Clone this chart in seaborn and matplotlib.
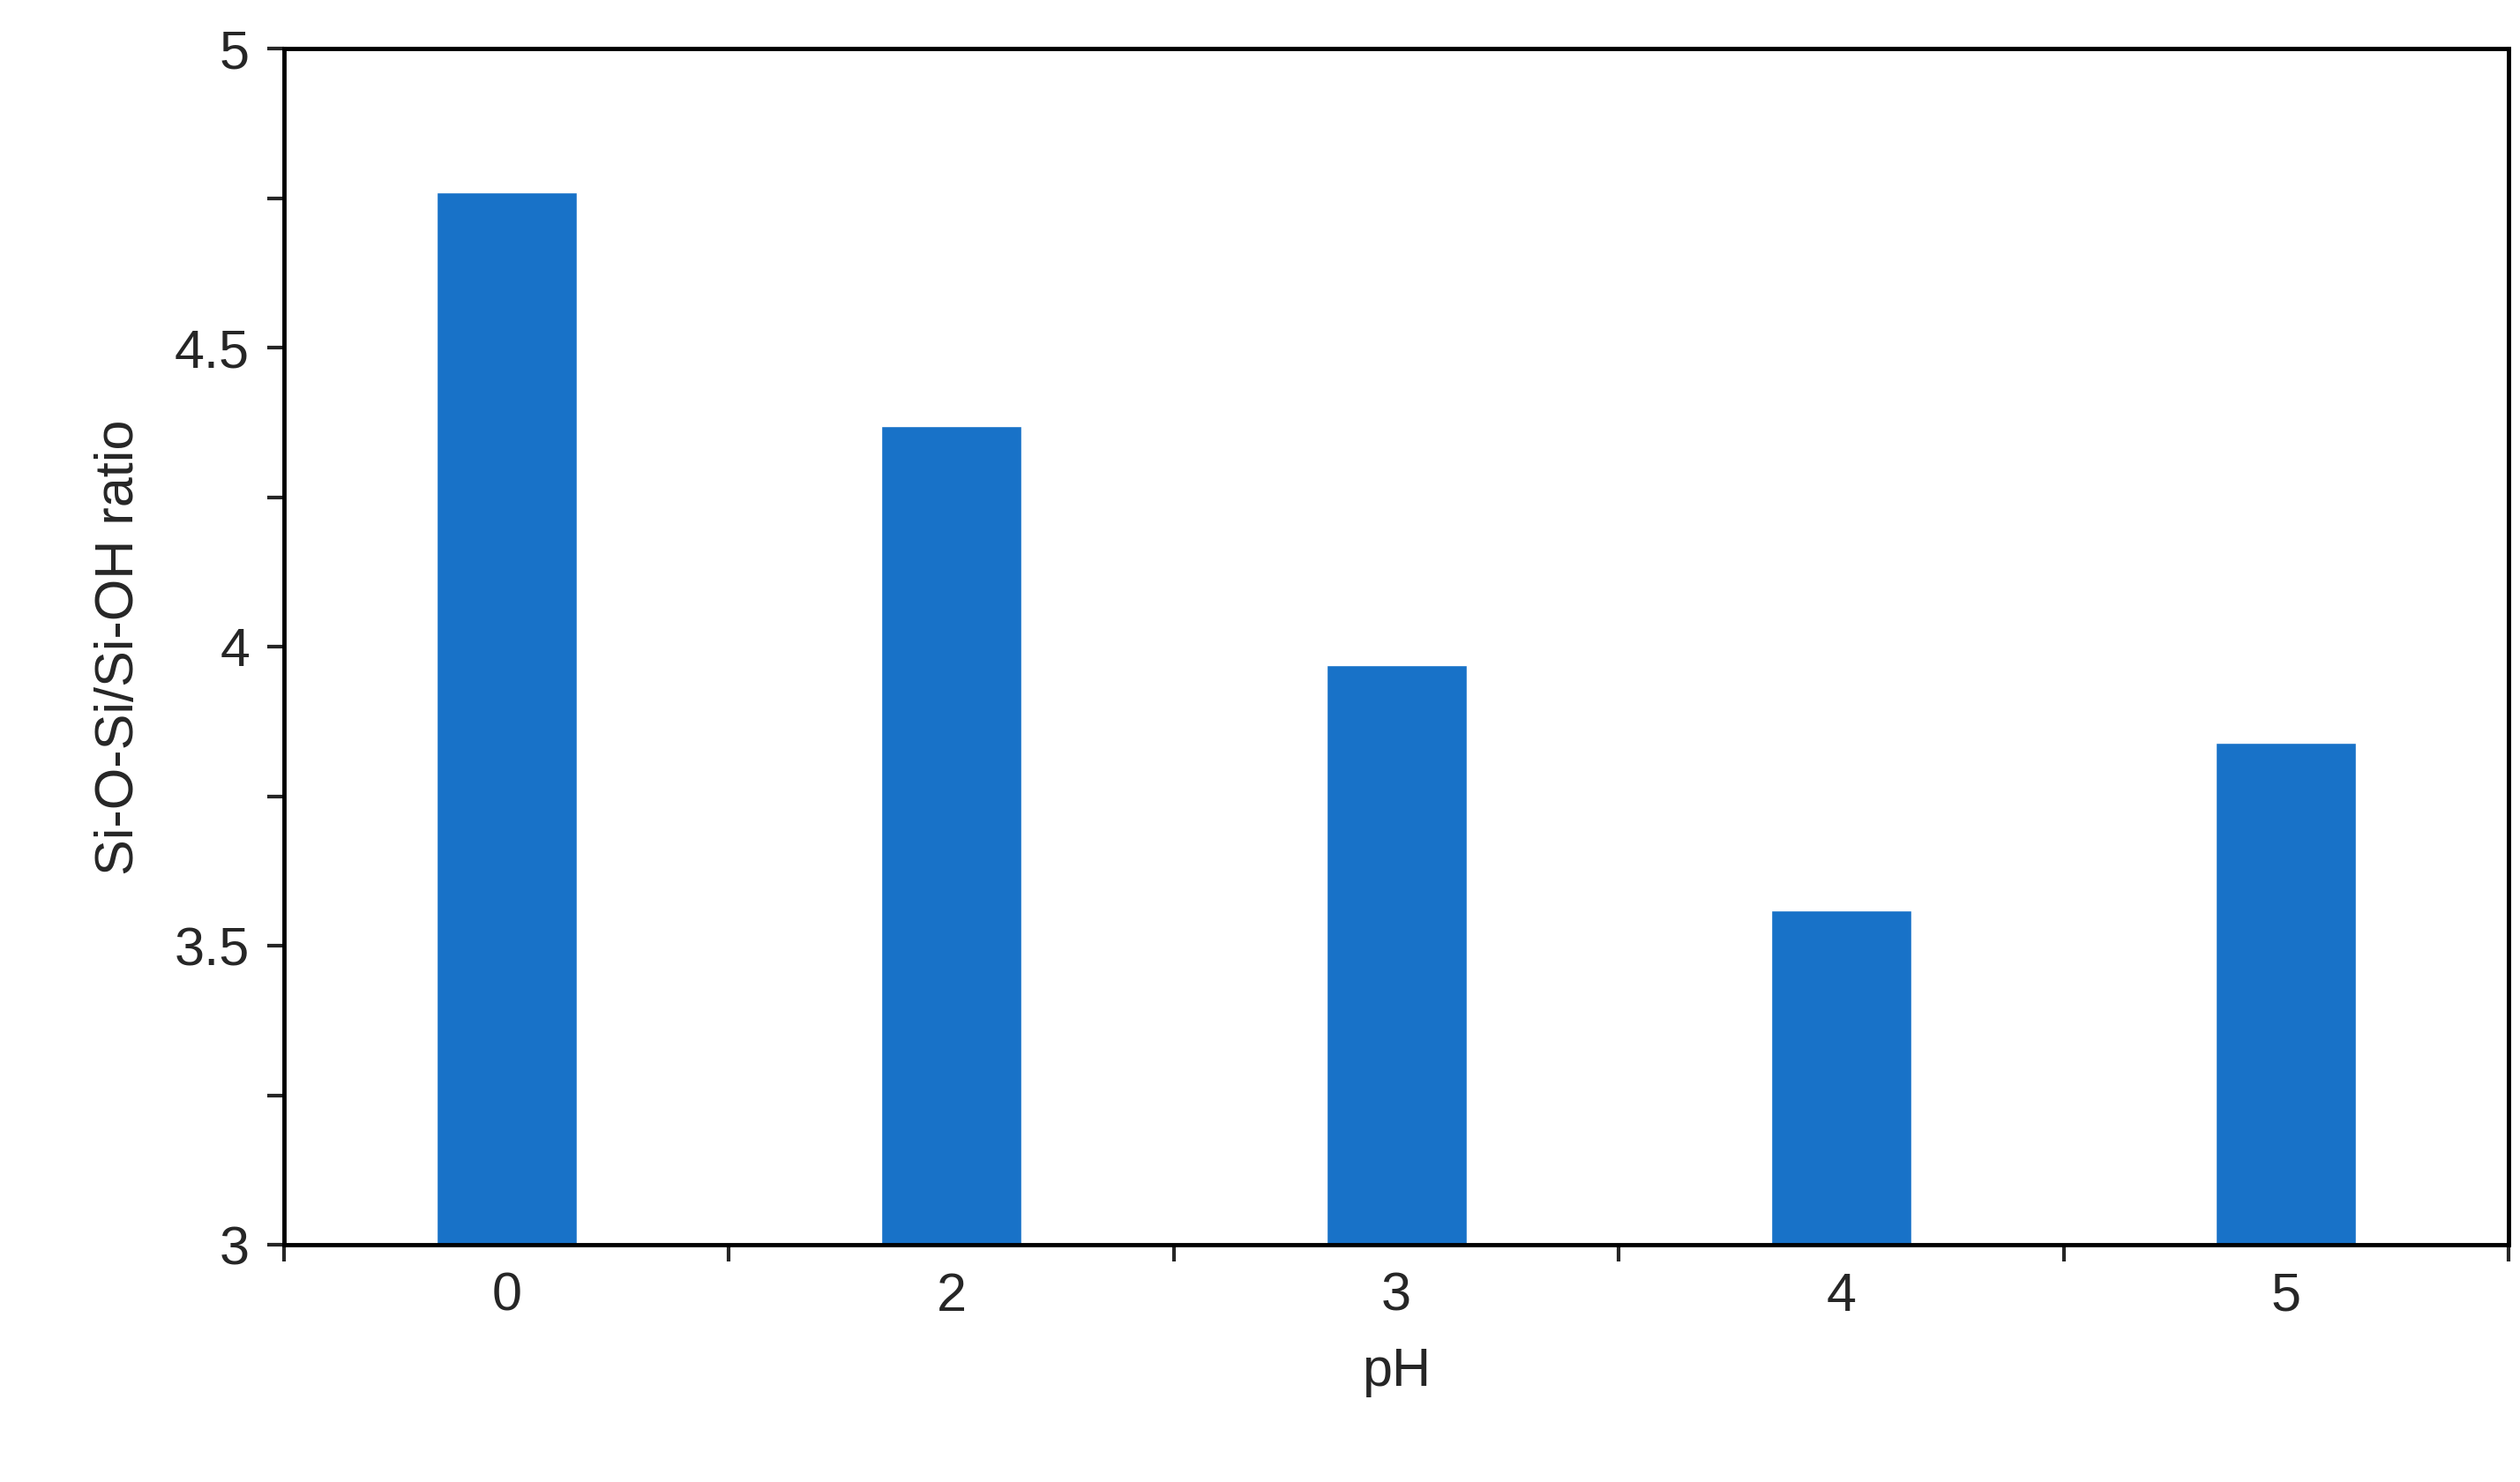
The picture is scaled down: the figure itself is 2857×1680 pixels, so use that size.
import matplotlib
matplotlib.use("Agg")
import matplotlib.pyplot as plt
import seaborn as sns
import pandas as pd
from matplotlib.ticker import MultipleLocator, FixedLocator, NullFormatter

categories = ["0", "2", "3", "4", "5"]
values = [4.76, 4.37, 3.97, 3.56, 3.84]

sns.set_style("white")
plt.rcParams['font.family'] = ['Liberation Sans', 'DejaVu Sans']

df = pd.DataFrame({"pH": categories, "ratio": values})
fig = plt.figure(figsize=(28.57, 16.8), dpi=100)
ax = fig.add_axes([0.1127, 0.160, 0.8828, 0.807])
sns.barplot(data=df, x="pH", y="ratio", color="#1872C8", width=0.315, saturation=1, ax=ax)
ax.set_ylim(3, 5)
ax.set_xlim(-0.5, 4.5)
ax.yaxis.set_major_locator(MultipleLocator(0.5))
ax.yaxis.set_minor_locator(MultipleLocator(0.25))
ax.yaxis.set_major_formatter(plt.FuncFormatter(lambda v, p: f"{v:g}"))
ax.xaxis.set_minor_locator(FixedLocator([-0.5, 0.5, 1.5, 2.5, 3.5, 4.5]))
ax.xaxis.set_minor_formatter(NullFormatter())
ax.tick_params(axis='x', which='major', length=0, pad=22, labelsize=44)
ax.tick_params(axis='x', which='minor', length=14, width=3, direction='out', bottom=True)
ax.tick_params(axis='y', which='both', length=14, width=3, direction='out', left=True, labelsize=44, pad=14)
for s in ax.spines.values():
    s.set_linewidth(3.5)
    s.set_color('black')
ax.set_xlabel("pH", fontsize=44, labelpad=20)
ax.set_ylabel("Si-O-Si/Si-OH ratio", fontsize=44, labelpad=24)
fig.savefig("out.png", dpi=100)
